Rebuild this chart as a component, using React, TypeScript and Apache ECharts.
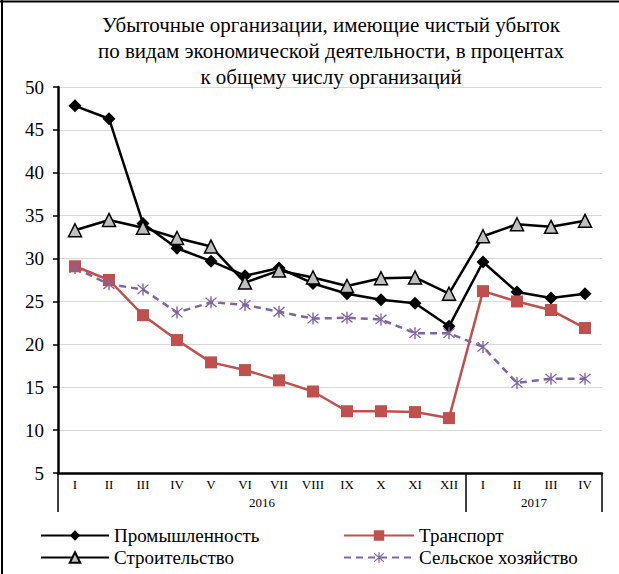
import React, { useEffect, useRef } from 'react';
import * as echarts from 'echarts';

const months = ['I', 'II', 'III', 'IV', 'V', 'VI', 'VII', 'VIII', 'IX', 'X', 'XI', 'XII', 'I', 'II', 'III', 'IV'];
const years = ['2016', '2017'];
const monthsPerYear = [12, 4];

const industry = [47.8, 46.3, 34.1, 31.2, 29.7, 28.0, 28.9, 27.1, 25.9, 25.2, 24.8, 22.1, 29.6, 26.1, 25.4, 25.9];
const transport = [29.1, 27.5, 23.4, 20.5, 17.9, 17.0, 15.8, 14.5, 12.2, 12.2, 12.1, 11.4, 26.2, 25.0, 24.0, 21.9];
const construction = [33.3, 34.5, 33.6, 32.4, 31.4, 27.2, 28.6, 27.8, 26.8, 27.7, 27.8, 25.9, 32.6, 34.0, 33.7, 34.4];
const agriculture = [28.9, 27.0, 26.4, 23.7, 24.9, 24.6, 23.8, 23.0, 23.1, 22.9, 21.3, 21.3, 19.7, 15.5, 16.0, 16.0];

const titleText = 'Убыточные организации, имеющие чистый убыток\nпо видам экономической деятельности, в процентах\nк общему числу организаций';

const SERIF = "'Times New Roman', 'Liberation Serif', serif";

const asterisk =
  'path://M9,0 L11,0 L11,20 L9,20 Z M1.4,2.8 L2.8,1.4 L18.6,17.2 L17.2,18.6 Z M17.2,1.4 L18.6,2.8 L2.8,18.6 L1.4,17.2 Z';

export default function App() {
  const ref = useRef<HTMLDivElement>(null);

  useEffect(() => {
    document.body.style.margin = '0';
    if (!ref.current) return;
    const chart = echarts.init(ref.current, null, { renderer: 'svg' });

    const bounds: number[] = [0];
    const centers: number[] = [];
    let acc = 0;
    monthsPerYear.forEach((n) => {
      centers.push(acc + n / 2);
      acc += n;
      bounds.push(acc);
    });

    const legendText = { fontFamily: SERIF, fontSize: 19, color: '#000' };

    chart.setOption({
      animation: false,
      backgroundColor: '#fff',
      title: {
        text: titleText,
        left: 326,
        top: 7,
        textAlign: 'center',
        textStyle: {
          fontFamily: SERIF,
          fontSize: 21,
          fontWeight: 'normal',
          color: '#000',
          lineHeight: 26,
        },
      },
      grid: { left: 58, right: 17, top: 87, bottom: 101, containLabel: false },
      xAxis: [
        {
          type: 'category',
          data: months,
          position: 'bottom',
          boundaryGap: true,
          axisLine: { lineStyle: { color: '#000', width: 2.5 } },
          axisTick: { show: false },
          axisLabel: {
            interval: 0,
            margin: 5,
            fontFamily: SERIF,
            fontSize: 13,
            color: '#000',
          },
          splitLine: { show: false },
        },
        {
          type: 'value',
          min: 0,
          max: acc,
          position: 'bottom',
          axisLine: { show: false },
          splitLine: { show: false },
          axisTick: {
            show: true,
            customValues: bounds,
            length: 39,
            lineStyle: { color: '#000', width: 1.5 },
          },
          axisLabel: {
            customValues: centers,
            margin: 23,
            fontFamily: SERIF,
            fontSize: 13,
            color: '#000',
            formatter: (v: number) => {
              const i = centers.findIndex((c) => Math.abs(c - v) < 1e-6);
              return i >= 0 ? years[i] : '';
            },
          },
        },
      ],
      yAxis: {
        type: 'value',
        min: 5,
        max: 50,
        interval: 5,
        axisLine: { show: true, lineStyle: { color: '#000', width: 2.5 } },
        axisTick: { show: true, inside: false, length: 5, lineStyle: { color: '#000', width: 1.5 } },
        axisLabel: { margin: 14, fontFamily: SERIF, fontSize: 19, color: '#000' },
        splitLine: { lineStyle: { color: '#d9d9d9', width: 1 } },
      },
      legend: [
        {
          left: 40,
          top: 526,
          padding: 0,
          orient: 'vertical',
          itemWidth: 68,
          itemHeight: 13,
          itemGap: 3,
          data: ['Промышленность', 'Строительство'],
          textStyle: legendText,
        },
        {
          left: 343,
          top: 526,
          padding: 0,
          orient: 'vertical',
          itemWidth: 70,
          itemHeight: 13,
          itemGap: 3,
          data: ['Транспорт', 'Сельское хозяйство'],
          textStyle: legendText,
        },
      ],
      graphic: [
        { type: 'line', shape: { x1: 0, y1: 1.5, x2: 619, y2: 1.5 }, style: { stroke: '#000', lineWidth: 2 } },
        { type: 'line', shape: { x1: 2, y1: 0, x2: 2, y2: 574 }, style: { stroke: '#000', lineWidth: 2 } },
      ],
      series: [
        {
          name: 'Промышленность',
          type: 'line',
          data: industry,
          symbol: 'diamond',
          symbolSize: 13,
          itemStyle: { color: '#000' },
          lineStyle: { color: '#000', width: 2.5 },
        },
        {
          name: 'Транспорт',
          type: 'line',
          data: transport,
          symbol: 'rect',
          symbolSize: 12,
          itemStyle: { color: '#c0504d' },
          lineStyle: { color: '#c0504d', width: 2.5 },
        },
        {
          name: 'Строительство',
          type: 'line',
          data: construction,
          symbol: 'triangle',
          symbolSize: 13,
          itemStyle: { color: '#bfbfbf', borderColor: '#000', borderWidth: 1.5 },
          lineStyle: { color: '#000', width: 2.5 },
        },
        {
          name: 'Сельское хозяйство',
          type: 'line',
          data: agriculture,
          symbol: asterisk,
          symbolSize: 12,
          itemStyle: { color: '#8064a2' },
          lineStyle: { color: '#8064a2', width: 2.5, type: [7, 5] },
        },
      ],
    });

    return () => chart.dispose();
  }, []);

  return <div ref={ref} style={{ width: 619, height: 574 }} />;
}
